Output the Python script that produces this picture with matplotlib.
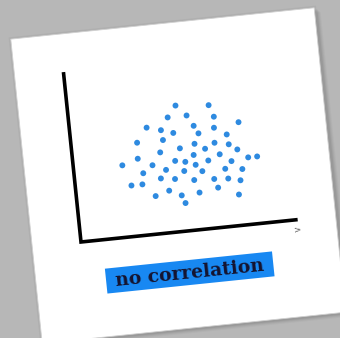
import matplotlib.pyplot as plt
from matplotlib.patches import Rectangle
from matplotlib.transforms import Affine2D

# scatter points, in chart units (pixels along the tilted axes)
x_vals = [108, 141, 99, 118, 145, 169, 77, 91, 124, 144, 103, 128, 156, 92, 66,
          123, 143, 157, 88, 108, 133, 165, 121, 147, 175, 184, 65, 102, 112, 135,
          158, 49, 79, 122, 92, 110, 128, 151, 168, 69, 86, 100, 119, 139, 153,
          165, 56, 67, 142, 93, 105, 123, 79, 162, 108]
y_vals = [126, 123, 115, 115, 111, 103, 107, 103, 104, 100, 99, 96, 92, 93, 93,
          86, 85, 82, 81, 83, 80, 76, 75, 73, 67, 67, 77, 71, 69, 68,
          65, 72, 69, 65, 63, 60, 58, 58, 56, 62, 55, 53, 50, 49, 48,
          45, 51, 51, 40, 42, 36, 37, 38, 31, 28]
label = 'no correlation'

x_len = 216
y_len = 169
tilt = 5.9

fig = plt.figure(figsize=(3.4, 3.38), dpi=100)
fig.patch.set_facecolor('#b7b7b7')
ax = fig.add_axes([0, 0, 1, 1])
ax.set_xlim(0, 340)
ax.set_ylim(0, 338)
ax.axis('off')

# the whole card is tilted, origin of the chart at (81, 96) in pixels
rot = Affine2D().rotate_deg(tilt).translate(81, 96) + ax.transData

# card shadow + card
for i, a in enumerate([0.05, 0.07, 0.09, 0.12]):
    off = 5 - i
    ax.add_patch(Rectangle((-48 + off, -97 - off), 305, 306, facecolor='#555555',
                           edgecolor='none', alpha=a, transform=rot))
ax.add_patch(Rectangle((-51, -99), 309, 310, facecolor='#999999',
                       edgecolor='none', alpha=0.25, transform=rot))
ax.add_patch(Rectangle((-49, -97), 305, 306, facecolor='white',
                       edgecolor='#d0d0d0', lw=0.6, transform=rot))

# axes lines
ax.plot([0, 0, x_len], [y_len, 0, 0], color='black', lw=2.6,
        solid_joinstyle='miter', transform=rot)
ax.text(x_len + 1, -10, '>', color='#555555', fontsize=6.5, rotation=tilt,
        ha='center', va='center', transform=rot)

# points
ax.scatter(x_vals, y_vals, s=18, color='#2e8ae0', edgecolors='none', transform=rot)

# label box
ax.add_patch(Rectangle((21, -54), 168, 25, facecolor='#1888f2',
                       edgecolor='none', transform=rot))
ax.text(105, -42, label, family='DejaVu Serif', weight='bold', fontsize=13.5,
        color='#141430', ha='center', va='center', rotation=tilt,
        rotation_mode='anchor', transform=rot)

fig.savefig('out.png', dpi=100, facecolor=fig.get_facecolor())
